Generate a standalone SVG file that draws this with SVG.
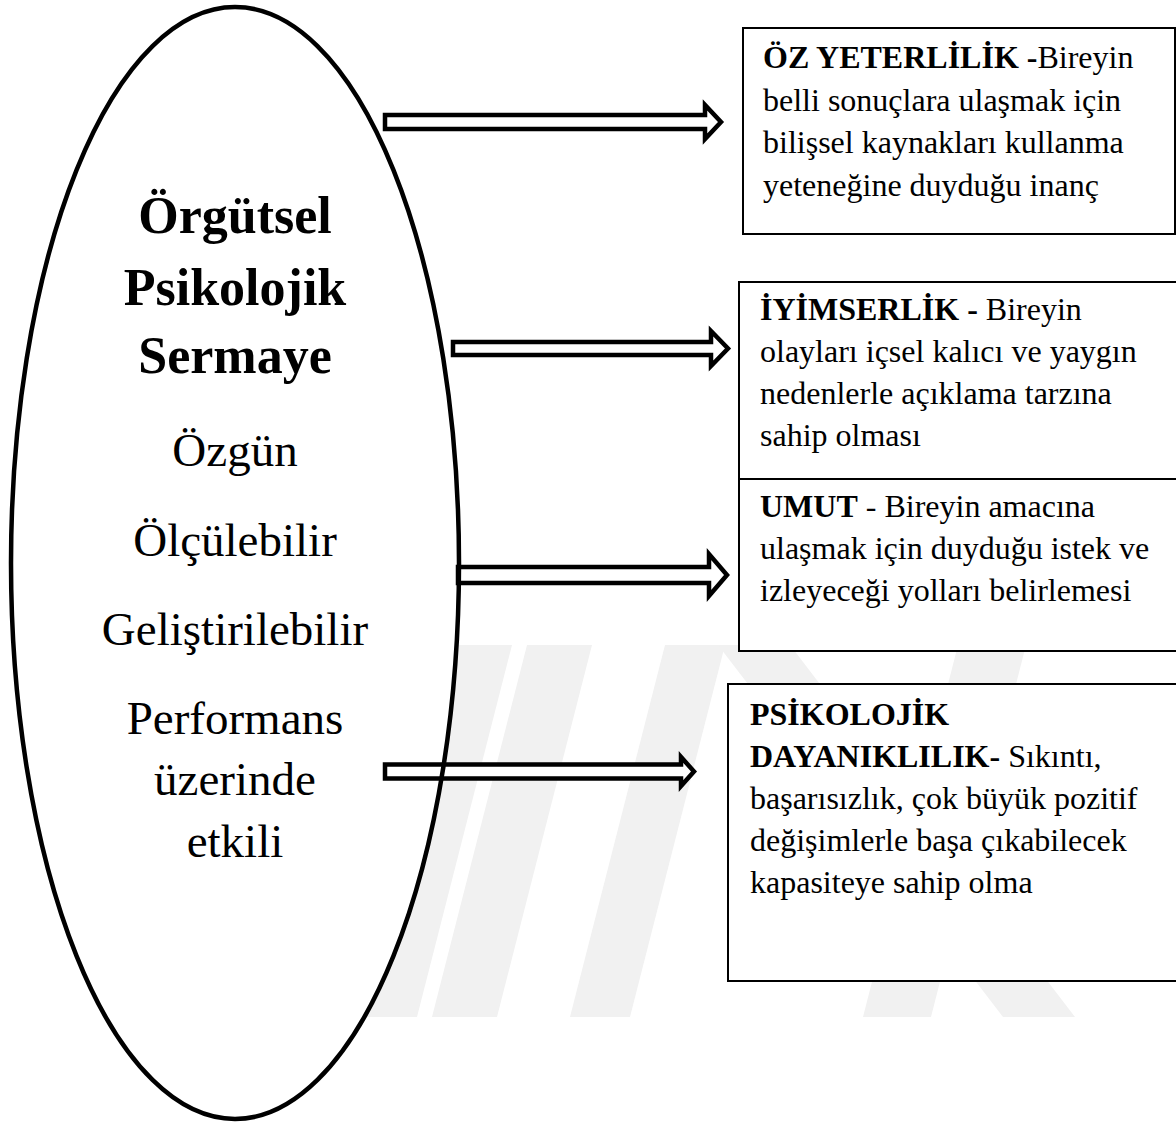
<svg xmlns="http://www.w3.org/2000/svg" width="1176" height="1131" viewBox="0 0 1176 1131">
<style>
.wm{fill:#f1f1f1}
.box{fill:#fff;stroke:#000;stroke-width:2}
.arrow{fill:#fff;stroke:#000;stroke-width:4.5;stroke-linejoin:miter}
.t{font-family:"Liberation Serif","Times New Roman",serif;fill:#000}
.bt{font-size:32px}
.b{font-weight:bold}
.title{font-size:52px;font-weight:bold;text-anchor:middle}
.sub{font-size:47px;text-anchor:middle}
</style>
<rect width="1176" height="1131" fill="#fff"/>
<g id="watermark">
<polygon class="wm" points="455,645 512,645 417,1017 360,1017"/>
<polygon class="wm" points="527,645 592,645 497,1017 432,1017"/>
<polygon class="wm" points="665,645 725,645 630,1017 570,1017"/>
<polygon class="wm" points="718,645 790,645 1075,1017 1003,1017"/>
<polygon class="wm" points="958,645 1026,645 931,1017 863,1017"/>
</g>
<g id="ellipse-node">
<ellipse cx="235" cy="563" rx="224" ry="556" fill="#fff" stroke="none"/>
<text class="t title" x="235" y="233">Örgütsel</text>
<text class="t title" x="235" y="305">Psikolojik</text>
<text class="t title" x="235" y="373">Sermaye</text>
<text class="t sub" x="235" y="466">Özgün</text>
<text class="t sub" x="235" y="556">Ölçülebilir</text>
<text class="t sub" x="235" y="645">Geliştirilebilir</text>
<text class="t sub" x="235" y="734">Performans</text>
<text class="t sub" x="235" y="795">üzerinde</text>
<text class="t sub" x="235" y="857">etkili</text>
</g>
<g id="box-oz-yeterlilik">
<rect class="box" x="743" y="28" width="432" height="206"/>
<text class="t bt" x="763" y="68"><tspan class="b">ÖZ YETERLİLİK -</tspan>Bireyin</text>
<text class="t bt" x="763" y="110.5">belli sonuçlara ulaşmak için</text>
<text class="t bt" x="763" y="153">bilişsel kaynakları kullanma</text>
<text class="t bt" x="763" y="195.5">yeteneğine duyduğu inanç</text>
</g>
<g id="box-iyimserlik">
<rect class="box" x="739" y="282" width="445" height="197"/>
<text class="t bt" x="760" y="320"><tspan class="b">İYİMSERLİK -</tspan> Bireyin</text>
<text class="t bt" x="760" y="362">olayları içsel kalıcı ve yaygın</text>
<text class="t bt" x="760" y="404">nedenlerle açıklama tarzına</text>
<text class="t bt" x="760" y="446">sahip olması</text>
</g>
<g id="box-umut">
<rect class="box" x="739" y="479" width="445" height="172"/>
<text class="t bt" x="760" y="517"><tspan class="b">UMUT</tspan> - Bireyin amacına</text>
<text class="t bt" x="760" y="559">ulaşmak için duyduğu istek ve</text>
<text class="t bt" x="760" y="601">izleyeceği yolları belirlemesi</text>
</g>
<g id="box-dayaniklilik">
<rect class="box" x="728" y="684" width="456" height="297"/>
<text class="t bt b" x="750" y="725">PSİKOLOJİK</text>
<text class="t bt" x="750" y="767"><tspan class="b">DAYANIKLILIK-</tspan> Sıkıntı,</text>
<text class="t bt" x="750" y="809">başarısızlık, çok büyük pozitif</text>
<text class="t bt" x="750" y="851">değişimlerle başa çıkabilecek</text>
<text class="t bt" x="750" y="893">kapasiteye sahip olma</text>
</g>
<g id="connectors">
<path class="arrow" d="M385,115 H705 V105 L721,122 L705,139 V129 H385 Z"/>
<path class="arrow" d="M453,342 H711 V331 L728,348.5 L711,366 V355 H453 Z"/>
<path class="arrow" d="M458,567 H709 V554 L727,575 L709,596 V583 H458 Z"/>
<path class="arrow" d="M385,764.5 H681 V757 L694,771.5 L681,786 V778.5 H385 Z"/>
</g>
<g id="ellipse-outline">
<ellipse cx="235" cy="563" rx="224" ry="556" fill="none" stroke="#000" stroke-width="4.5"/>
</g>
</svg>
